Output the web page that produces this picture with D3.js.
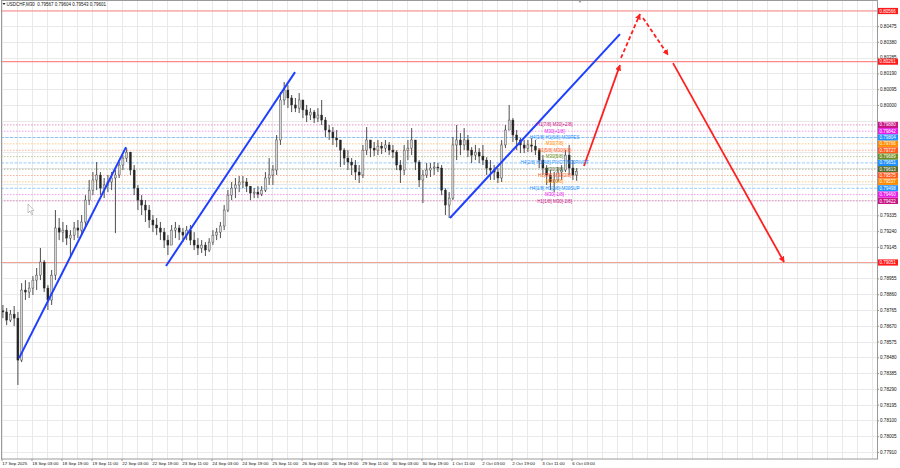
<!DOCTYPE html>
<html><head><meta charset="utf-8">
<script src="https://cdn.jsdelivr.net/npm/d3@7"></script>
<style>body{margin:0;background:#fff;} svg{display:block;}</style>
</head><body>
<svg id="c" width="900" height="468"></svg>
<script>
const symbolTitle = "USDCHF,M30  0.79567 0.79604 0.79543 0.79601";
const barsPerCandle = 4;
const firstOpen = 0.78760;
const highs = [
0.78795,0.78777,0.78765,0.78789,0.78753,0.78927,0.78945,0.78933,0.78969,0.79018,
0.79138,0.79066,0.78915,0.79006,0.79367,0.79319,0.79295,0.79277,0.79246,0.79295,
0.79307,0.79337,0.79457,0.79548,0.79596,0.79656,0.79596,0.79560,0.79578,0.79596,
0.79608,0.79656,0.79698,0.79740,0.79716,0.79638,0.79518,0.79457,0.79427,0.79397,
0.79337,0.79319,0.79295,0.79259,0.79216,0.79277,0.79295,0.79277,0.79259,0.79271,
0.79277,0.79234,0.79198,0.79186,0.79174,0.79198,0.79246,0.79259,0.79295,0.79397,
0.79487,0.79536,0.79560,0.79572,0.79572,0.79560,0.79499,0.79499,0.79511,0.79511,
0.79596,0.79680,0.79638,0.79819,0.80078,0.80138,0.80120,0.80060,0.80042,0.80072,
0.80030,0.80000,0.79981,0.79970,0.79981,0.80030,0.79927,0.79879,0.79867,0.79849,
0.79789,0.79740,0.79728,0.79680,0.79668,0.79638,0.79759,0.79867,0.79789,0.79777,
0.79789,0.79777,0.79789,0.79777,0.79759,0.79728,0.79668,0.79759,0.79789,0.79861,
0.79789,0.79668,0.79608,0.79650,0.79650,0.79656,0.79650,0.79638,0.79499,0.79475,
0.79807,0.79879,0.79831,0.79861,0.79819,0.79746,0.79759,0.79740,0.79759,0.79686,
0.79668,0.79638,0.79620,0.79789,0.79879,0.80000,0.79921,0.79849,0.79801,0.79789,
0.79789,0.79801,0.79789,0.79740,0.79698,0.79638,0.79608,0.79596,0.79626,0.79638,
0.79728,0.79759,0.79668,0.79620];
const lows = [
0.78716,0.78674,0.78692,0.78668,0.78313,0.78451,0.78825,0.78837,0.78855,0.78885,
0.78945,0.78873,0.78765,0.78795,0.78945,0.79186,0.79174,0.79156,0.79078,0.79186,
0.79198,0.79216,0.79259,0.79397,0.79457,0.79487,0.79457,0.79439,0.79475,0.79487,
0.79228,0.79560,0.79608,0.79656,0.79578,0.79457,0.79367,0.79337,0.79295,0.79259,
0.79234,0.79216,0.79186,0.79138,0.79096,0.79156,0.79198,0.79186,0.79174,0.79186,
0.79156,0.79126,0.79096,0.79108,0.79090,0.79114,0.79156,0.79186,0.79198,0.79246,
0.79355,0.79427,0.79439,0.79475,0.79499,0.79475,0.79427,0.79439,0.79439,0.79451,
0.79475,0.79518,0.79518,0.79578,0.79759,0.80000,0.79981,0.79957,0.79957,0.79951,
0.79921,0.79897,0.79909,0.79891,0.79897,0.79879,0.79807,0.79789,0.79759,0.79746,
0.79626,0.79638,0.79608,0.79578,0.79548,0.79530,0.79560,0.79698,0.79686,0.79692,
0.79698,0.79704,0.79716,0.79698,0.79680,0.79608,0.79530,0.79578,0.79668,0.79698,
0.79608,0.79505,0.79409,0.79560,0.79566,0.79578,0.79596,0.79457,0.79337,0.79319,
0.79427,0.79668,0.79698,0.79728,0.79686,0.79650,0.79668,0.79650,0.79638,0.79578,
0.79548,0.79548,0.79530,0.79536,0.79740,0.79849,0.79777,0.79728,0.79710,0.79710,
0.79716,0.79716,0.79698,0.79620,0.79578,0.79518,0.79487,0.79475,0.79536,0.79548,
0.79596,0.79578,0.79548,0.79543];
const closes = [
0.78753,0.78704,0.78740,0.78716,0.78463,0.78885,0.78873,0.78897,0.78945,0.78975,
0.79054,0.78897,0.78825,0.78975,0.79259,0.79234,0.79246,0.79198,0.79216,0.79259,
0.79246,0.79295,0.79427,0.79487,0.79548,0.79578,0.79499,0.79518,0.79536,0.79560,
0.79578,0.79638,0.79680,0.79716,0.79608,0.79499,0.79427,0.79397,0.79367,0.79307,
0.79277,0.79259,0.79234,0.79186,0.79156,0.79246,0.79259,0.79234,0.79216,0.79246,
0.79186,0.79156,0.79138,0.79156,0.79126,0.79174,0.79216,0.79234,0.79271,0.79367,
0.79457,0.79499,0.79518,0.79536,0.79536,0.79511,0.79469,0.79475,0.79463,0.79487,
0.79560,0.79578,0.79608,0.79789,0.80030,0.80090,0.80042,0.80000,0.79981,0.80030,
0.79970,0.79939,0.79957,0.79921,0.79939,0.79909,0.79849,0.79837,0.79801,0.79789,
0.79728,0.79680,0.79656,0.79638,0.79596,0.79578,0.79728,0.79789,0.79740,0.79728,
0.79752,0.79740,0.79759,0.79728,0.79716,0.79638,0.79608,0.79728,0.79740,0.79789,
0.79656,0.79548,0.79578,0.79608,0.79620,0.79626,0.79620,0.79487,0.79397,0.79439,
0.79759,0.79789,0.79759,0.79789,0.79728,0.79698,0.79716,0.79692,0.79668,0.79620,
0.79608,0.79596,0.79560,0.79759,0.79849,0.79909,0.79819,0.79789,0.79759,0.79740,
0.79759,0.79752,0.79728,0.79668,0.79620,0.79578,0.79536,0.79548,0.79596,0.79608,
0.79698,0.79620,0.79578,0.79601];

const dateLabels = ["17 Sep 2025","18 Sep 03:00","18 Sep 19:00","19 Sep 11:00","22 Sep 03:00",
"22 Sep 19:00","23 Sep 11:00","24 Sep 03:00","24 Sep 19:00","25 Sep 11:00","26 Sep 03:00",
"26 Sep 19:00","29 Sep 11:00","30 Sep 03:00","30 Sep 19:00","1 Oct 11:00","2 Oct 03:00",
"2 Oct 19:00","3 Oct 11:00","6 Oct 03:00"];
const barsPerDateLabel = 32;
const priceTicks = [0.80570,0.80475,0.80380,0.80285,0.80190,0.80095,0.80000,0.79905,0.79810,0.79715,
0.79620,0.79525,0.79430,0.79335,0.79240,0.79145,0.79050,0.78955,0.78860,0.78765,0.78670,
0.78575,0.78480,0.78385,0.78290,0.78195,0.78100,0.78005,0.77910];

const levelPrices = [0.79880,0.79842,0.79804,0.79766,0.79727,0.79689,0.79651,0.79613,0.79575,0.79537,0.79498,0.79460,0.79422];
const levelColors = ["#c71585","#e61ee6","#1e90ff","#ff8c00","#ff5a1e","#6b8e23","#1e90ff","#556b2f","#ff5a1e","#ff8c00","#1e90ff","#e61ee6","#c71585"];
const levelTexts = ["H1[7/8] M30[+2/8]","M30[+1/8]","H4[3/8] H1[6/8] M30RES","M30[7/8]","H1[5/8] M30[6/8]","M30[5/8]",
"H4[2/8] H1[4/8] PIVOT M30PIVOT","M30[3/8]","H1[3/8] M30[2/8]","M30[1/8]","H4[1/8] H1[2/8] M30SUP","M30[-1/8]","H1[1/8] M30[-2/8]"];
const levelTextBar = 590;

const redLevels = [0.80566,0.80261,0.79051];
// [bar1, price1, bar2, price2]
const trendLines = [[18.7,0.78475,132.8,0.79746],[175.5,0.79030,313.1,0.80198],[478.4,0.79319,659.7,0.80427]];
// [bar1, price1, bar2, price2, dashed]
const forecastArrows = [[621.3,0.79632,659.7,0.80240,false],[660.8,0.80283,681.1,0.80548,true],
[684.3,0.80524,711.0,0.80301,true],[716.3,0.80252,834.7,0.79054,false]];

const W=900,H=468;
const plot={l:1,r:877,t:1,b:459};
const FONT="'Liberation Sans', Arial, sans-serif";
const svg=d3.select("#c");
const x=d3.scaleLinear().domain([0,barsPerDateLabel]).range([1.5,31.5]);
const y=d3.scaleLinear().domain([0.80566,0.79051]).range([11,262.5]);

svg.append("rect").attr("width",W).attr("height",H).attr("fill","#fff");
const defs=svg.append("defs");
defs.append("clipPath").attr("id","pc").append("rect")
  .attr("x",plot.l).attr("y",plot.t).attr("width",plot.r-plot.l).attr("height",plot.b-plot.t);
defs.append("marker").attr("id","ah").attr("viewBox","0 0 10 10").attr("refX",9).attr("refY",5)
  .attr("markerWidth",6).attr("markerHeight",6).attr("markerUnits","userSpaceOnUse").attr("orient","auto")
  .append("path").attr("d","M0,0 L10,5 L0,10 Z").attr("fill","#ff2020");

const g=svg.append("g").attr("clip-path","url(#pc)");
// grid
const vg=d3.range(0,960,16);
g.selectAll(".vg").data(vg).join("line")
  .attr("x1",d=>Math.round(x(d))+0.5).attr("x2",d=>Math.round(x(d))+0.5)
  .attr("y1",plot.t).attr("y2",plot.b).attr("stroke","#e9e9e9").attr("stroke-width",1);
g.selectAll(".hg").data(priceTicks).join("line")
  .attr("x1",plot.l).attr("x2",plot.r)
  .attr("y1",d=>Math.round(y(d))+0.5).attr("y2",d=>Math.round(y(d))+0.5)
  .attr("stroke","#e9e9e9").attr("stroke-width",1);

// level lines
g.selectAll(".lv").data(levelPrices).join("line")
  .attr("x1",plot.l).attr("x2",plot.r).attr("y1",d=>y(d)).attr("y2",d=>y(d))
  .attr("stroke",(d,i)=>levelColors[i]).attr("stroke-opacity",0.45).attr("stroke-width",1)
  .attr("stroke-dasharray",(d,i)=>levelColors[i]==="#1e90ff"?"3,1.5":"1.5,1.5");

// red horizontal levels
g.selectAll(".rl").data(redLevels).join("line")
  .attr("x1",plot.l).attr("x2",plot.r).attr("y1",d=>y(d)).attr("y2",d=>y(d))
  .attr("stroke",(d,i)=>i===2?"#f08a7a":"#ff6a6a").attr("stroke-width",1.2).attr("stroke-opacity",0.8);

// candles
const candles=closes.map((c,i)=>({i,o:i===0?firstOpen:closes[i-1],h:highs[i],l:lows[i],c}));
const cx=d=>x(d.i*barsPerCandle+1.5);
const cg=g.append("g");
cg.selectAll(".wk").data(candles).join("line")
  .attr("x1",cx).attr("x2",cx)
  .attr("y1",d=>y(Math.max(d.h,d.o,d.c))).attr("y2",d=>y(Math.min(d.l,d.o,d.c)))
  .attr("stroke","#3a3a3a").attr("stroke-width",0.9);
cg.selectAll(".bd").data(candles).join("rect")
  .attr("x",d=>cx(d)-1).attr("width",2)
  .attr("y",d=>y(Math.max(d.o,d.c))).attr("height",d=>Math.max(0.6,Math.abs(y(d.o)-y(d.c))))
  .attr("fill",d=>d.c>=d.o?"#d8d8d8":"#222").attr("stroke","#333").attr("stroke-width",0.4);

// trend lines
g.selectAll(".tl").data(trendLines).join("line")
  .attr("x1",d=>x(d[0])).attr("y1",d=>y(d[1])).attr("x2",d=>x(d[2])).attr("y2",d=>y(d[3]))
  .attr("stroke","#1f3fff").attr("stroke-width",2);

// forecast arrows
g.selectAll(".fa").data(forecastArrows).join("line")
  .attr("x1",d=>x(d[0])).attr("y1",d=>y(d[1])).attr("x2",d=>x(d[2])).attr("y2",d=>y(d[3]))
  .attr("stroke","#ff2020").attr("stroke-width",1.8)
  .attr("stroke-dasharray",d=>d[4]?"4,2.5":null).attr("marker-end","url(#ah)");

// level texts
g.selectAll(".lt").data(levelTexts).join("text")
  .attr("x",x(levelTextBar)).attr("y",(d,i)=>y(levelPrices[i])+1.6)
  .attr("text-anchor","middle").attr("font-family",FONT).attr("font-size",4.5)
  .attr("fill",(d,i)=>levelColors[i]).text(d=>d);

// cursor
g.append("path").attr("d","M28,204 L28,213 L30,211 L31.8,214.8 L33,214.2 L31.3,210.6 L34,210.4 Z")
  .attr("fill","#fff").attr("stroke","#888").attr("stroke-width",0.5);

// borders
svg.append("rect").attr("x",plot.l+0.5).attr("y",plot.t-0.5).attr("width",plot.r-plot.l).attr("height",plot.b-plot.t+0.5)
  .attr("fill","none").attr("stroke","#9a9a9a").attr("stroke-width",1);
// shift marker
svg.append("path").attr("d",`M${x(617)-2},0 L${x(617)+2},0 L${x(617)},3 Z`).attr("fill","#999");

// title
svg.append("path").attr("d","M2.5,3 L5.5,3 L4,5 Z").attr("fill","#222");
svg.append("text").attr("x",6.5).attr("y",6).attr("font-family",FONT).attr("font-size",4.5)
  .attr("fill","#111").attr("xml:space","preserve").style("white-space","pre").text(symbolTitle);

// price axis (labels hidden under the level boxes are not drawn)
const boxPrices=levelPrices.concat(redLevels);
const visibleTicks=priceTicks.filter(p=>p!==0.80285 ? boxPrices.every(b=>Math.abs(y(b)-y(p))>5.2) : true);
const ya=svg.append("g").attr("transform",`translate(${plot.r},0)`)
  .call(d3.axisRight(y).tickValues(visibleTicks).tickFormat(d3.format(".5f")).tickSize(2).tickPadding(1));
ya.select(".domain").remove();
ya.selectAll("line").attr("stroke","#999");
ya.selectAll("text").attr("font-family",FONT).attr("font-size",4.6).attr("fill","#111");
ya.selectAll(".tick").filter(d=>d===0.80285).select("text").attr("dy","0.1em");

// date axis
const dateBars=dateLabels.map((d,i)=>i*barsPerDateLabel);
const xa=svg.append("g").attr("transform",`translate(0,${plot.b})`)
  .call(d3.axisBottom(x).tickValues(dateBars).tickFormat((d,i)=>dateLabels[i]).tickSize(2).tickPadding(1.2));
xa.select(".domain").remove();
xa.selectAll("line").attr("stroke","#999");
xa.selectAll("text").attr("text-anchor","start").attr("x",0.3).attr("font-family",FONT).attr("font-size",4.4).attr("fill","#111");

// axis boxes
const boxes=levelPrices.map((p,i)=>({p,c:levelColors[i]})).concat(redLevels.map(p=>({p,c:"#ff1a1a"})));
const bg=svg.append("g");
bg.selectAll("rect").data(boxes).join("rect")
  .attr("x",plot.r+1).attr("width",20).attr("y",d=>y(d.p)-3.1).attr("height",6.2).attr("fill",d=>d.c);
bg.selectAll("text").data(boxes).join("text")
  .attr("x",plot.r+2.5).attr("y",d=>y(d.p)+1.6).attr("font-family",FONT).attr("font-size",4.5)
  .attr("fill","#fff").text(d=>d3.format(".5f")(d.p));
</script>
</body></html>
